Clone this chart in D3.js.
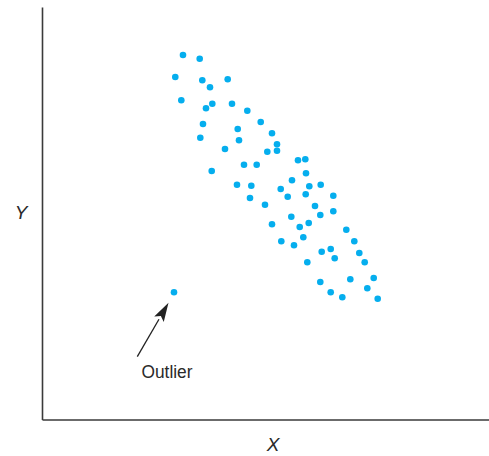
<!DOCTYPE html>
<html>
<head>
<meta charset="utf-8">
<script src="https://cdn.jsdelivr.net/npm/d3@7"></script>
<style>
  html, body { margin: 0; padding: 0; background: #fff; }
  svg { display: block; }
</style>
</head>
<body>
<script>
// Data (arbitrary units, no tick labels)
const xValues = [183.0,199.7,175.3,202.3,227.7,210.0,181.3,212.3,206.0,232.0,247.3,260.7,203.0,237.7,272.0,200.3,239.0,277.0,225.0,267.3,277.0,298.0,305.3,244.0,256.7,211.7,306.0,292.0,237.0,251.3,309.3,320.7,280.7,305.7,287.7,333.3,250.0,265.0,315.0,320.3,333.3,291.3,272.0,308.7,299.7,346.3,303.3,281.3,354.3,294.0,330.7,321.7,359.3,334.7,307.3,364.7,373.7,350.3,320.3,367.3,330.7,342.3,377.7];
const yValues = [55.0,58.7,77.0,80.3,79.3,87.3,100.3,103.7,108.3,103.7,110.7,122.0,124.0,129.0,133.3,137.7,140.3,144.3,149.0,151.7,150.7,160.3,159.3,164.7,164.7,171.0,173.3,180.3,184.7,185.7,186.3,184.7,189.0,194.3,196.7,195.7,198.0,204.7,206.0,215.0,211.3,216.7,224.3,223.0,227.0,229.7,237.3,241.3,241.3,245.3,249.0,251.7,253.0,258.3,262.3,262.3,278.0,279.3,282.0,288.3,292.3,297.3,298.7];
const outlierX = [174.0];
const outlierY = [292.3];
const axisLabels = ["X", "Y"];
const annotation = ["Outlier"];

const W = 489, H = 456;
const svg = d3.select("body").append("svg").attr("width", W).attr("height", H);

// Scales: data units map to pixel space of the plot
const x = d3.scaleLinear().domain([42, 489]).range([42, 489]);
const y = d3.scaleLinear().domain([7, 419.5]).range([7, 419.5]);

const axisColor = "#3a3a3a";
// Axes (no ticks)
const xAxis = d3.axisBottom(x).tickValues([]).tickSizeOuter(0);
const yAxis = d3.axisLeft(y).tickValues([]).tickSizeOuter(0);
svg.append("g").attr("transform", `translate(0,${y(419.5)})`).call(xAxis)
  .select(".domain").attr("stroke", axisColor).attr("stroke-width", 1.6);
svg.append("g").attr("transform", `translate(${x(42)},0)`).call(yAxis)
  .select(".domain").attr("stroke", axisColor).attr("stroke-width", 1.6);

const dotColor = "#05aeee";
const pts = xValues.map((v, i) => ({x: v, y: yValues[i]}));
svg.append("g").selectAll("circle").data(pts).join("circle")
  .attr("cx", d => x(d.x)).attr("cy", d => y(d.y)).attr("r", 3.3)
  .attr("fill", dotColor);

const outl = outlierX.map((v, i) => ({x: v, y: outlierY[i]}));
svg.append("g").selectAll("circle").data(outl).join("circle")
  .attr("cx", d => x(d.x)).attr("cy", d => y(d.y)).attr("r", 3.3)
  .attr("fill", dotColor);

// Arrow to outlier
const o = outl[0];
const tip = [x(o.x) - 5.5, y(o.y) + 10.5];
const tail = [137.3, 356.7];
const ang = Math.atan2(tip[1] - tail[1], tip[0] - tail[0]);
const headLen = 19, headW = 5.5;
const base = [tip[0] - headLen * Math.cos(ang), tip[1] - headLen * Math.sin(ang)];
svg.append("line")
  .attr("x1", tail[0]).attr("y1", tail[1]).attr("x2", base[0]).attr("y2", base[1])
  .attr("stroke", "#222").attr("stroke-width", 1.3);
const px = -Math.sin(ang), py = Math.cos(ang);
const notch = [tip[0] - headLen * 0.8 * Math.cos(ang), tip[1] - headLen * 0.8 * Math.sin(ang)];
svg.append("path")
  .attr("d", `M${tip[0]},${tip[1]} L${base[0] + px * headW},${base[1] + py * headW} L${notch[0]},${notch[1]} L${base[0] - px * headW},${base[1] - py * headW} Z`)
  .attr("fill", "#222");

svg.append("text").attr("x", 141.5).attr("y", 378)
  .attr("font-family", "Liberation Sans, Arial, sans-serif").attr("font-size", 17.5)
  .attr("textLength", 51).attr("lengthAdjust", "spacingAndGlyphs")
  .attr("fill", "#2a2a2a").text(annotation[0]);

svg.append("text").attr("x", 273).attr("y", 451).attr("text-anchor", "middle")
  .attr("font-family", "Liberation Sans, Arial, sans-serif").attr("font-size", 19)
  .attr("font-style", "italic").attr("fill", "#2a2a2a").text(axisLabels[0]);
svg.append("text").attr("x", 21).attr("y", 219).attr("text-anchor", "middle")
  .attr("font-family", "Liberation Sans, Arial, sans-serif").attr("font-size", 19)
  .attr("font-style", "italic").attr("fill", "#2a2a2a").text(axisLabels[1]);
</script>
</body>
</html>
